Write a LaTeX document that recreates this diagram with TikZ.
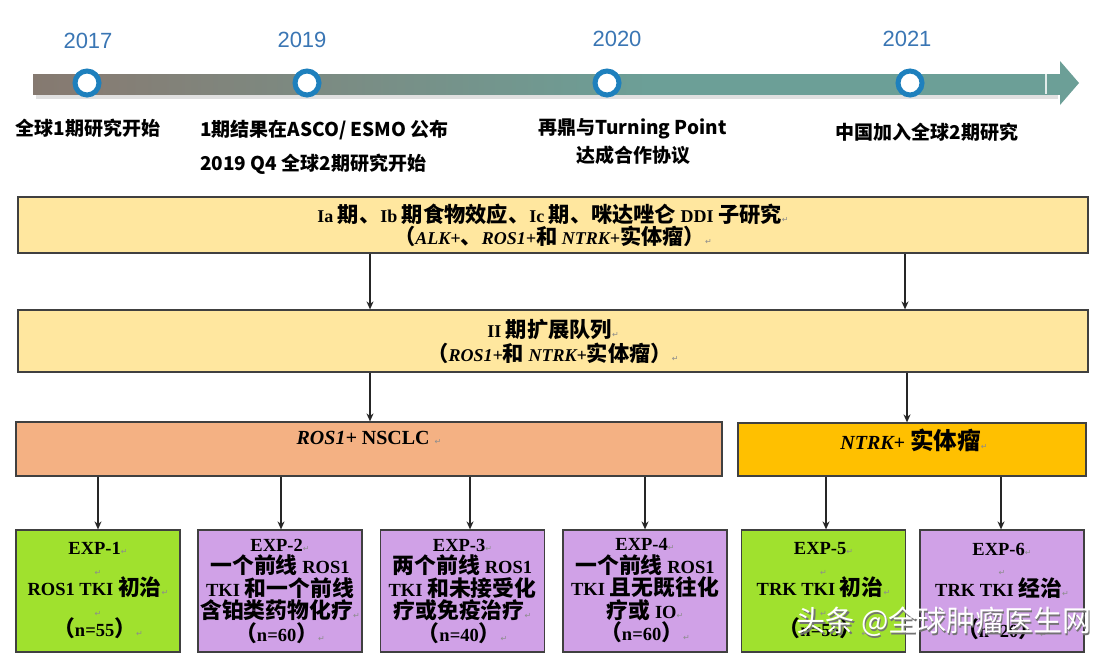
\documentclass[tikz,border=0pt]{standalone}
\usepackage{fontspec}
\setmainfont{Liberation Serif}
\newfontfamily\cjk{Noto Sans CJK SC}
\newfontfamily\cjkbox[Scale=1.18]{Noto Sans CJK SC}
\newfontfamily\symfont{DejaVu Sans}
\newfontfamily\lsans{Liberation Sans}
\usetikzlibrary{arrows.meta}
\newcommand\zh[1]{{\cjkbox\bfseries #1}}
\newcommand\retmark{{\symfont\mdseries\upshape\fontsize{8}{8}\selectfont\color{black!45}↵}}
\definecolor{tlbrown}{HTML}{7E5A4E}
\definecolor{tlmid}{HTML}{867D74}
\definecolor{tlteal}{HTML}{6C9F97}
\definecolor{tlblue}{HTML}{1E80BD}
\definecolor{yeartxt}{HTML}{3A76B4}
\definecolor{ylw}{HTML}{FFE79F}
\definecolor{salmon}{HTML}{F4B183}
\definecolor{orng}{HTML}{FFC000}
\definecolor{grn}{HTML}{A0E12E}
\definecolor{lav}{HTML}{D0A1E7}
\pgfdeclarehorizontalshading{tlshade}{100bp}{color(0bp)=(tlbrown); color(28bp)=(tlmid); color(55bp)=(tlteal); color(100bp)=(tlteal)}
\begin{document}
\begin{tikzpicture}[x=1pt,y=-1pt,
  box/.style={draw=black!75, line width=1.2pt, inner sep=0pt, align=center, font=\bfseries\fontsize{18}{22}\selectfont},
  expbox/.style={box, minimum width=164pt, minimum height=122pt, font=\bfseries\fontsize{18.5}{22.5}\selectfont},
  arr/.style={-{Stealth[length=8pt,width=7pt]}, line width=1.3pt, black!85},
  tlcirc/.style={circle, draw=tlblue, line width=5pt, fill=white, minimum size=24pt, inner sep=0pt},
  year/.style={text=yeartxt, font=\lsans\fontsize{22}{22}\selectfont, inner sep=0pt},
  evt/.style={font=\cjk\bfseries\fontsize{19}{26}\selectfont, inner sep=0pt, align=center},
  lbl/.style={font=\bfseries\fontsize{20}{22}\selectfont, inner sep=0pt},
  wm/.style={font=\cjk\fontsize{29}{29}\selectfont, inner sep=0pt}
]
\useasboundingbox (0,0) rectangle (1108,656);
\fill[white] (0,0) rectangle (1108,656);

% timeline
\fill[black!12] (36,94) rectangle (1058,99);
\shade[shading=tlshade] (33,74) rectangle (1061,94);
\fill[tlteal] (1060,61) -- (1079,83) -- (1060,105) -- cycle;
\draw[white!80!tlteal, line width=1.2pt] (1046,74) -- (1046,94);

\node[tlcirc] (c1) at (87,83) {};
\node[tlcirc] (c2) at (307,83) {};
\node[tlcirc] (c3) at (607,83) {};
\node[tlcirc] (c4) at (910,83) {};

\node[year] (y1) at (88,41) {2017};
\node[year] (y2) at (302,40) {2019};
\node[year] (y3) at (617,39) {2020};
\node[year] (y4) at (907,39) {2021};

\node[evt] (t1) at (88,128) {全球1期研究开始};
\node[evt, anchor=west] (t2) at (200,130) {1期结果在ASCO/ ESMO 公布};
\node[evt, anchor=west] (t3) at (200,164) {2019 Q4 全球2期研究开始};
\node[evt, anchor=west] (t4) at (538,129) {再鼎与Turning Point};
\node[evt] (t5) at (633,155) {达成合作协议};
\node[evt] (t6) at (927,132) {中国加入全球2期研究};

% phase boxes
\node[box, fill=ylw, minimum width=1070pt, minimum height=56pt] (b1) at (553,225)
  {Ia \zh{期、}Ib \zh{期食物效应、}Ic \zh{期、咪达唑仑} DDI \zh{子研究}\retmark\\
   \zh{（}\textit{ALK+}\zh{、}\textit{ROS1+}\zh{和} \textit{NTRK+}\zh{实体瘤）}\retmark};
\node[box, fill=ylw, minimum width=1070pt, minimum height=62pt, font=\bfseries\fontsize{18}{24}\selectfont] (b2) at (553,341)
  {II \zh{期扩展队列}\retmark\\
   \zh{（}\textit{ROS1+}\zh{和} \textit{NTRK+}\zh{实体瘤）}\retmark};
\node[box, fill=salmon, minimum width=706pt, minimum height=54pt] (b3) at (369,449) {};
\node[lbl] (b3t) at (369,438) {\textit{ROS1+} NSCLC \retmark};
\node[box, fill=orng, minimum width=348pt, minimum height=53pt] (b4) at (912,449.5) {};
\node[lbl] (b4t) at (914,440) {\textit{NTRK+} \zh{实体瘤}\retmark};

% expansion cohorts
\node[expbox, fill=grn, font=\bfseries\fontsize{18.5}{20.5}\selectfont] (e1) at (98,591)
  {EXP-1\retmark\\\retmark\\ROS1 TKI \zh{初治}\retmark\\\retmark\\\zh{（}n=55\zh{）}\retmark};
\node[expbox, fill=lav] (e2) at (280,591)
  {EXP-2\retmark\\\zh{一个前线} ROS1\\TKI \zh{和一个前线}\\\zh{含铂类药物化疗}\retmark\\\zh{（}n=60\zh{）}\retmark};
\node[expbox, fill=lav] (e3) at (462.5,591)
  {EXP-3\retmark\\\zh{两个前线} ROS1\\TKI \zh{和未接受化}\\\zh{疗或免疫治疗}\retmark\\\zh{（}n=40\zh{）}\retmark};
\node[expbox, fill=lav] (e4) at (645,591)
  {EXP-4\retmark\\\zh{一个前线} ROS1\\TKI \zh{且无既往化}\\\zh{疗或} IO\retmark\\\zh{（}n=60\zh{）}\retmark};
\node[expbox, fill=grn, font=\bfseries\fontsize{18.5}{20.5}\selectfont] (e5) at (823.5,591)
  {EXP-5\retmark\\\retmark\\TRK TKI \zh{初治}\retmark\\\retmark\\\zh{（}n=55\zh{）}\retmark};
\node[expbox, fill=lav, font=\bfseries\fontsize{18.5}{20.5}\selectfont] (e6) at (1002,591)
  {EXP-6\retmark\\\retmark\\TRK TKI \zh{经治}\retmark\\\retmark\\\zh{（}n=20\zh{）}\retmark};

% connectors
\coordinate (xa) at (370,0);
\coordinate (xb) at (905,0);
\coordinate (xc) at (907,0);
\draw[arr] (b1.south -| xa) -- (b2.north -| xa);
\draw[arr] (b1.south -| xb) -- (b2.north -| xb);
\draw[arr] (b2.south -| xa) -- (b3.north -| xa);
\draw[arr] (b2.south -| xc) -- (b4.north -| xc);

\coordinate (p1) at (98,0);
\coordinate (p2) at (281,0);
\coordinate (p3) at (470,0);
\coordinate (p4) at (645,0);
\coordinate (p5) at (826,0);
\coordinate (p6) at (1001,0);
\draw[arr] (b3.south -| p1) -- (e1.north -| p1);
\draw[arr] (b3.south -| p2) -- (e2.north -| p2);
\draw[arr] (b3.south -| p3) -- (e3.north -| p3);
\draw[arr] (b3.south -| p4) -- (e4.north -| p4);
\draw[arr] (b4.south -| p5) -- (e5.north -| p5);
\draw[arr] (b4.south -| p6) -- (e6.north -| p6);

% watermark
\node[wm, text=black!55] (wms) at (945.5,623.5) {头条 @全球肿瘤医生网};
\node[wm, text=white] (wm) at (944,622) {头条 @全球肿瘤医生网};
\end{tikzpicture}
\end{document}
